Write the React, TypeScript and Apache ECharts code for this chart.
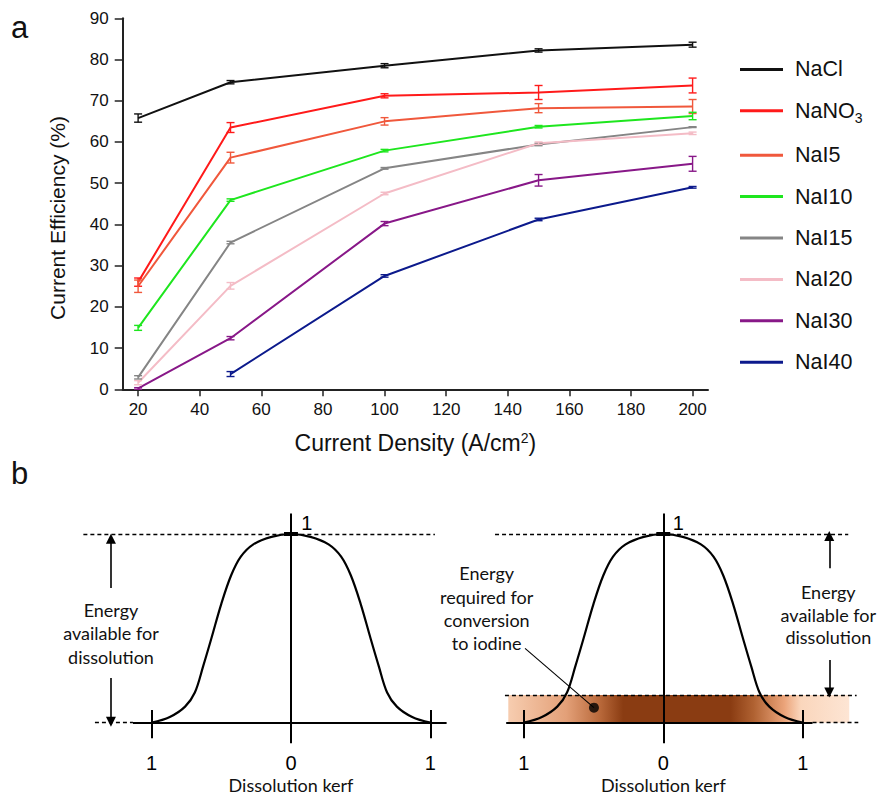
import React, { useEffect, useRef } from 'react';
import * as echarts from 'echarts';

// ---------- Panel a data ----------
const densities = [20, 50, 100, 150, 200];
const densityTicks = [20, 40, 60, 80, 100, 120, 140, 160, 180, 200];
const salts = ['NaCl', 'NaNO3', 'NaI5', 'NaI10', 'NaI15', 'NaI20', 'NaI30', 'NaI40'];
const saltColors = ['#111111', '#ff1a1a', '#f0583c', '#1ee61e', '#858585', '#f4bcc6', '#881888', '#0c1a8c'];

const naCl = [65.8, 74.5, 78.5, 82.2, 83.6];
const naNO3 = [26.0, 63.5, 71.2, 72.0, 73.7];
const naI5 = [25.0, 56.2, 65.0, 68.2, 68.6];
const naI10 = [14.9, 45.9, 57.9, 63.7, 66.3];
const naI15 = [2.9, 35.6, 53.6, 59.4, 63.6];
const naI20 = [1.6, 25.1, 47.5, 59.7, 62.1];
const naI30 = [0.2, 12.4, 40.2, 50.7, 54.7];
const naI40 = [null, 3.7, 27.5, 41.2, 49.0];

const errNaCl = [1.0, 0.4, 0.5, 0.4, 0.6];
const errNaNO3 = [1.0, 1.2, 0.5, 1.7, 1.8];
const errNaI5 = [1.5, 1.3, 0.9, 1.1, 1.7];
const errNaI10 = [0.6, 0.3, 0.3, 0.3, 0.9];
const errNaI15 = [0.4, 0.3, 0.2, 0.3, 0.1];
const errNaI20 = [0.5, 0.8, 0.3, 0.3, 0.3];
const errNaI30 = [0.2, 0.4, 0.5, 1.4, 1.8];
const errNaI40 = [null, 0.6, 0.3, 0.3, 0.2];

const saltValues = [naCl, naNO3, naI5, naI10, naI15, naI20, naI30, naI40];
const saltErrors = [errNaCl, errNaNO3, errNaI5, errNaI10, errNaI15, errNaI20, errNaI30, errNaI40];

// ---------- Panel b data (schematic, normalised units) ----------
const kerfTicks = [-1, 0, 1];
const bellX = [-1, -0.87, -0.76, -0.69, -0.63, -0.57, -0.5, -0.43, -0.36, -0.27, -0.14, 0, 0.14, 0.27, 0.36, 0.43, 0.5, 0.57, 0.63, 0.69, 0.76, 0.87, 1];
const bellY = [0, 0.03, 0.085, 0.16, 0.3, 0.45, 0.63, 0.78, 0.88, 0.945, 0.985, 1, 0.985, 0.945, 0.88, 0.78, 0.63, 0.45, 0.3, 0.16, 0.085, 0.03, 0];
const iodineLevel = 0.147; // energy used to convert iodide to iodine

// left diagram guides
const leftSolid = [
  [[-1.134, 0], [1.117, 0]],
  [[0, -0.109], [0, 1.109]],
  [[-1, -0.083], [-1, 0.067]],
  [[1, -0.083], [1, 0.067]],
];
const leftPeak = [[[-0.05, 1], [0.05, 1]]];
const leftDashed = [
  [[-1.49, 1], [1.033, 1]],
  [[-1.407, 0], [-1.134, 0]],
];
const leftArrows = [
  [[-1.292, 0.714], [-1.292, 0.975]],
  [[-1.292, 0.237], [-1.292, 0.005]],
];

// right diagram guides
const rightSolid = [
  [[-1.126, 0], [1.07, 0]],
  [[0, -0.109], [0, 1.109]],
  [[-1, -0.083], [-1, 0.067]],
  [[1, -0.083], [1, 0.067]],
];
const rightPeak = [[[-0.05, 1], [0.05, 1]]];
const rightDashed = [
  [[-1.206, 1], [1.326, 1]],
  [[-1.135, iodineLevel], [1.386, iodineLevel]],
  [[1.07, 0], [1.398, 0]],
];
const rightArrows = [
  [[1.19, 0.818], [1.19, 0.99]],
  [[1.19, 0.332], [1.19, 0.16]],
];
const bandExtent = [-1.111, 1.333];
const leader = [[[-0.991, 0.394], [-0.497, 0.0795]]];
const leaderDot = [[-0.497, 0.0795]];

const SANS = 'Liberation Sans, Arial, sans-serif';
const CAL = 'Lato, Open Sans, sans-serif';

function lineSeries(name: string, values: (number | null)[], color: string) {
  const data = densities
    .map((d, i) => (values[i] == null ? null : [d, values[i]]))
    .filter((p) => p !== null);
  return {
    type: 'line',
    name,
    xAxisIndex: 0,
    yAxisIndex: 0,
    data,
    symbol: 'none',
    showSymbol: false,
    lineStyle: { color, width: 2 },
    itemStyle: { color },
    z: 2,
  };
}

function errorSeries(name: string, values: (number | null)[], errs: (number | null)[], color: string) {
  const data = densities
    .map((d, i) =>
      values[i] == null ? null : [d, (values[i] as number) - (errs[i] as number), (values[i] as number) + (errs[i] as number)]
    )
    .filter((p) => p !== null);
  return {
    type: 'custom',
    name: name + ' error',
    xAxisIndex: 0,
    yAxisIndex: 0,
    data,
    silent: true,
    z: 3,
    renderItem: (_p: any, api: any) => {
      const lo = api.coord([api.value(0), api.value(1)]);
      const hi = api.coord([api.value(0), api.value(2)]);
      const w = 4;
      const style = { stroke: color, lineWidth: 1.4, fill: 'none' };
      return {
        type: 'group',
        children: [
          { type: 'line', shape: { x1: lo[0], y1: lo[1], x2: hi[0], y2: hi[1] }, style },
          { type: 'line', shape: { x1: lo[0] - w, y1: lo[1], x2: lo[0] + w, y2: lo[1] }, style },
          { type: 'line', shape: { x1: hi[0] - w, y1: hi[1], x2: hi[0] + w, y2: hi[1] }, style },
        ],
      };
    },
  };
}

function segs(idx: number, segments: number[][][], width: number, dashed = false, arrow = false) {
  return {
    type: 'lines',
    coordinateSystem: 'cartesian2d',
    xAxisIndex: idx,
    yAxisIndex: idx,
    data: segments.map((s) => ({ coords: s })),
    symbol: arrow ? ['none', 'triangle'] : 'none',
    symbolSize: arrow ? 10 : 0,
    lineStyle: { color: '#000', width, opacity: 1, type: dashed ? [4, 3] : 'solid', curveness: 0 },
    itemStyle: { color: '#000' },
    silent: true,
    z: 4,
  };
}

function bellSeries(idx: number) {
  return {
    type: 'line',
    xAxisIndex: idx,
    yAxisIndex: idx,
    data: bellX.map((x, i) => [x, bellY[i]]),
    smooth: 0.35,
    symbol: 'none',
    showSymbol: false,
    lineStyle: { color: '#000', width: 2.2 },
    silent: true,
    z: 5,
  };
}

function kerfXAxis(idx: number, min: number, max: number) {
  return {
    type: 'value',
    gridIndex: idx,
    min,
    max,
    position: 'bottom',
    axisLine: { show: false, onZero: false },
    axisTick: { show: false },
    splitLine: { show: false },
    axisLabel: {
      customValues: kerfTicks,
      formatter: (v: number) => String(Math.abs(v)),
      fontSize: 20,
      fontFamily: SANS,
      color: '#000',
      margin: 2,
    },
  };
}

function kerfYAxis(idx: number) {
  return { type: 'value', gridIndex: idx, min: -0.15, max: 1.15, show: false };
}

const App: React.FC = () => {
  const ref = useRef<HTMLDivElement>(null);

  useEffect(() => {
    document.body.style.margin = '0';
    if (!ref.current) return;
    const chart = echarts.init(ref.current, null, { renderer: 'svg' });

    const series: any[] = [];
    salts.forEach((s, i) => series.push(lineSeries(s, saltValues[i], saltColors[i])));
    salts.forEach((s, i) => series.push(errorSeries(s, saltValues[i], saltErrors[i], saltColors[i])));

    // panel b left
    series.push(bellSeries(1));
    series.push(segs(1, leftSolid, 2));
    series.push(segs(1, leftPeak, 4));
    series.push(segs(1, leftDashed, 1.3, true));
    series.push(segs(1, leftArrows, 1.6, false, true));

    // panel b right
    series.push({
      type: 'custom',
      xAxisIndex: 2,
      yAxisIndex: 2,
      data: [[bandExtent[0], 0, bandExtent[1], iodineLevel]],
      silent: true,
      z: 1,
      renderItem: (_p: any, api: any) => {
        const a = api.coord([api.value(0), api.value(3)]);
        const b = api.coord([api.value(2), api.value(1)]);
        return {
          type: 'rect',
          shape: { x: a[0], y: a[1], width: b[0] - a[0], height: b[1] - a[1] },
          style: {
            fill: new echarts.graphic.LinearGradient(0, 0, 1, 0, [
              { offset: 0, color: '#f7cdb0' },
              { offset: 0.17, color: '#e3a078' },
              { offset: 0.27, color: '#b8683a' },
              { offset: 0.337, color: '#8a3c12' },
              { offset: 0.652, color: '#8a3c12' },
              { offset: 0.72, color: '#b06232' },
              { offset: 0.81, color: '#eba47a' },
              { offset: 0.858, color: '#fad6bc' },
              { offset: 1, color: '#fde5d4' },
            ]),
          },
        };
      },
    });
    series.push(bellSeries(2));
    series.push(segs(2, rightSolid, 2));
    series.push(segs(2, rightPeak, 4));
    series.push(segs(2, rightDashed, 1.3, true));
    series.push(segs(2, rightArrows, 1.6, false, true));
    series.push(segs(2, leader, 1.1));
    series.push({
      type: 'scatter',
      xAxisIndex: 2,
      yAxisIndex: 2,
      data: leaderDot,
      symbolSize: 10,
      itemStyle: { color: '#000' },
      silent: true,
      z: 6,
    });

    const option: any = {
      animation: false,
      backgroundColor: '#ffffff',
      grid: [
        { left: 122.7, top: 18.3, width: 585.3, height: 371, containLabel: false },
        { left: 81.975, top: 505.7, width: 376.2, height: 245.3 },
        { left: 488.9, top: 505.7, width: 376.65, height: 245.3 },
      ],
      xAxis: [
        {
          type: 'value',
          gridIndex: 0,
          min: 15,
          max: 205,
          axisLine: { show: true, onZero: false, lineStyle: { color: '#222', width: 2 } },
          axisTick: { show: true, length: 7, customValues: densityTicks, lineStyle: { color: '#222', width: 1.5 } },
          axisLabel: { customValues: densityTicks, fontSize: 17, fontFamily: SANS, color: '#111', margin: 12 },
          splitLine: { show: false },
          name: 'Current Density (A/cm{sup|2})',
          nameLocation: 'middle',
          nameGap: 42,
          nameTextStyle: {
            fontSize: 23,
            fontFamily: SANS,
            color: '#111',
            rich: {
              sup: { fontSize: 14, fontFamily: SANS, color: '#111', verticalAlign: 'top', lineHeight: 23 },
            },
          },
        },
        kerfXAxis(1, -1.5, 1.2),
        kerfXAxis(2, -1.25, 1.45),
      ],
      yAxis: [
        {
          type: 'value',
          gridIndex: 0,
          min: 0,
          max: 90,
          interval: 10,
          axisLine: { show: true, onZero: false, lineStyle: { color: '#222', width: 2 } },
          axisTick: { show: true, length: 8, lineStyle: { color: '#222', width: 1.5 } },
          axisLabel: { fontSize: 17, fontFamily: SANS, color: '#111', margin: 14 },
          splitLine: { show: false },
        },
        kerfYAxis(1),
        kerfYAxis(2),
      ],
      legend: {
        data: salts,
        orient: 'vertical',
        left: 740,
        top: 58.4,
        padding: 0,
        icon: 'rect',
        itemWidth: 43,
        itemHeight: 3,
        itemGap: 19.4,
        selectedMode: false,
        formatter: (n: string) => (n === 'NaNO3' ? '{m|NaNO}{s|3}' : '{m|' + n + '}'),
        textStyle: {
          fontFamily: SANS,
          fontSize: 21.5,
          color: '#111',
          padding: [0, 0, 0, 7],
          rich: {
            m: { fontSize: 21.5, lineHeight: 20, fontFamily: SANS, color: '#111' },
            s: { fontSize: 14, lineHeight: 20, fontFamily: SANS, color: '#111', verticalAlign: 'top', padding: [10, 0, 0, 0] },
          },
        },
      },
      graphic: [
        { type: 'text', x: 11, y: 27.7, style: { text: 'a', font: '31px ' + SANS, fill: '#111', align: 'left', verticalAlign: 'middle' } },
        { type: 'text', x: 11, y: 473, style: { text: 'b', font: '31px ' + SANS, fill: '#111', align: 'left', verticalAlign: 'middle' } },
        {
          type: 'text', x: 57, y: 218, rotation: Math.PI / 2,
          style: { text: 'Current Efficiency (%)', font: '21px ' + SANS, fill: '#111', align: 'center', verticalAlign: 'middle' },
        },
        { type: 'text', x: 306.7, y: 522.7, style: { text: '1', font: '20px ' + SANS, fill: '#000', align: 'center', verticalAlign: 'middle' } },
        { type: 'text', x: 678.3, y: 522.7, style: { text: '1', font: '20px ' + SANS, fill: '#000', align: 'center', verticalAlign: 'middle' } },
        {
          type: 'text', x: 111, y: 633.3,
          style: { text: 'Energy\navailable for\ndissolution', font: '18px ' + CAL, fill: '#111', align: 'center', verticalAlign: 'middle', lineHeight: 23.3 },
        },
        {
          type: 'text', x: 828.3, y: 614.5,
          style: { text: 'Energy\navailable for\ndissolution', font: '18px ' + CAL, fill: '#111', align: 'center', verticalAlign: 'middle', lineHeight: 22.6 },
        },
        {
          type: 'text', x: 486.7, y: 608.3,
          style: { text: 'Energy\nrequired for\nconversion\nto iodine', font: '18px ' + CAL, fill: '#111', align: 'center', verticalAlign: 'middle', lineHeight: 23.3 },
        },
        { type: 'text', x: 291, y: 785, style: { text: 'Dissolution kerf', font: '18px ' + CAL, fill: '#111', align: 'center', verticalAlign: 'middle' } },
        { type: 'text', x: 663.3, y: 785, style: { text: 'Dissolution kerf', font: '18px ' + CAL, fill: '#111', align: 'center', verticalAlign: 'middle' } },
      ],
      series,
    };

    chart.setOption(option);
    return () => {
      chart.dispose();
    };
  }, []);

  return <div ref={ref} style={{ width: 880, height: 797 }} />;
};

export default App;
